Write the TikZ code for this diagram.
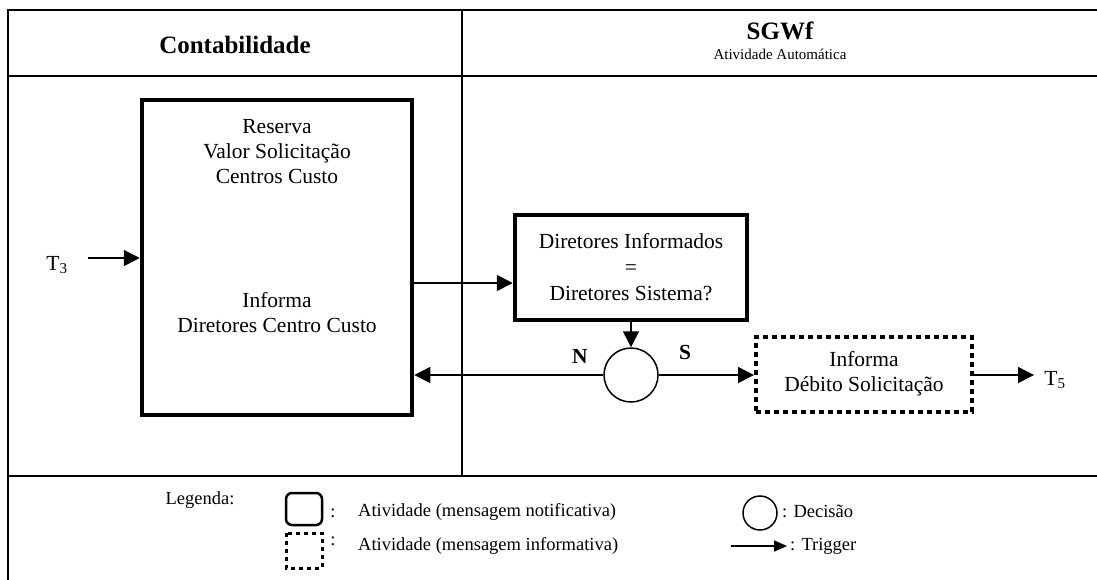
\documentclass[tikz,border=0pt]{standalone}
\usepackage{fontspec}
\setmainfont{Liberation Serif}
\usepackage{tikz}
\usetikzlibrary{arrows.meta,positioning,shapes.geometric}

\newcommand{\bodysize}{\fontsize{21.5}{25}\selectfont}
\newcommand{\headsize}{\fontsize{25}{28}\selectfont}
\newcommand{\legsize}{\fontsize{18.5}{21}\selectfont}

\begin{document}
\begin{tikzpicture}[
    x=1pt, y=-1pt,
    frameline/.style={line width=2pt, draw=black},
    actbox/.style={rectangle, draw=black, line width=4.5pt, inner sep=0pt},
    infobox/.style={rectangle, draw=black, line width=4pt, dash pattern=on 5pt off 4pt, inner sep=0pt},
    decnode/.style={circle, draw=black, line width=1.5pt, inner sep=0pt},
    lbl/.style={align=center, font=\bodysize, inner sep=0pt},
    leglbl/.style={anchor=west, font=\legsize, inner sep=0pt},
    trigger/.style={-{Triangle[length=16pt,width=16pt]}, line width=1.5pt, draw=black},
    smalltrigger/.style={-{Triangle[length=13pt,width=11pt]}, line width=1.5pt, draw=black}
]
\useasboundingbox (0,0) rectangle (1097,579);
\clip (0,0) rectangle (1097,579);

% Frame
\draw[frameline] (8,10) rectangle (1120,600);
\draw[frameline] (8,76) -- (1120,76);
\draw[frameline] (8,476) -- (1120,476);
\draw[frameline] (462,10) -- (462,476);

% Headers
\node[font=\headsize\bfseries] (lane1) at (235,45) {Contabilidade};
\node[font=\headsize\bfseries] (lane2) at (780,31) {SGWf};
\node[font=\fontsize{15}{17}\selectfont, below=2pt of lane2] (lane2sub) {Atividade Automática};

% Nodes
\node[actbox, minimum width=270pt, minimum height=315pt] (reserva) at (277,257.5) {};
\node[lbl] (reservatxt) at (277,152) {Reserva\\Valor Solicitação\\Centros Custo};
\node[lbl] (informatxt) at (277,313) {Informa\\Diretores Centro Custo};
\node[actbox, minimum width=232pt, minimum height=105pt, align=center, font=\fontsize{21.5}{26}\selectfont] (compara) at (631,267.5) {Diretores Informados\\=\\Diretores Sistema?};
\node[decnode, minimum size=54pt] (decisao) at (631,375) {};
\node[infobox, minimum width=216pt, minimum height=75pt, align=center, font=\bodysize] (debito) at (864,374) {Informa\\Débito Solicitação};
\node[font=\bodysize\bfseries] (nlbl) at (580,356) {N};
\node[font=\bodysize\bfseries] (slbl) at (685,352) {S};
\coordinate (t3in) at (88,258);
\node[font=\bodysize] (t3) at (57,265) {T\textsubscript{3}};
\coordinate (t5out) at (1034,375);
\node[font=\bodysize] (t5) at (1055,380) {T\textsubscript{5}};

% Edges
\draw[trigger] (t3in) -- (t3in -| reserva.west);
\draw[trigger] (reserva.east |- 0,283) -- (compara.west |- 0,283);
\draw[trigger] (compara.south) -- (decisao.north);
\draw[trigger] (decisao.west) -- (decisao.west -| reserva.east);
\draw[trigger] (decisao.east) -- (decisao.east -| debito.west);
\draw[trigger] (debito.east |- t5out) -- (t5out);

% Legend
\node[font=\legsize] (legenda) at (200,500) {Legenda:};
\draw[line width=2.5pt, rounded corners=6pt] (286,493) rectangle (322,525);
\node[font=\legsize] (colon1) at (333,513) {:};
\node[leglbl] (leg1) at (358,512) {Atividade (mensagem notificativa)};
\draw[line width=3pt, dash pattern=on 4pt off 4pt] (286,533) rectangle (322,568);
\node[font=\legsize] (colon2) at (333,541) {:};
\node[leglbl] (leg2) at (358,546) {Atividade (mensagem informativa)};
\node[decnode, minimum size=34pt] (legdec) at (760,513) {};
\node[leglbl] (leg3) at (782,511) {: Decisão};
\coordinate (legarra) at (731,546);
\coordinate (legarrb) at (787,546);
\draw[smalltrigger] (legarra) -- (legarrb);
\node[leglbl] (leg4) at (790,546) {: Trigger};

\end{tikzpicture}
\end{document}
